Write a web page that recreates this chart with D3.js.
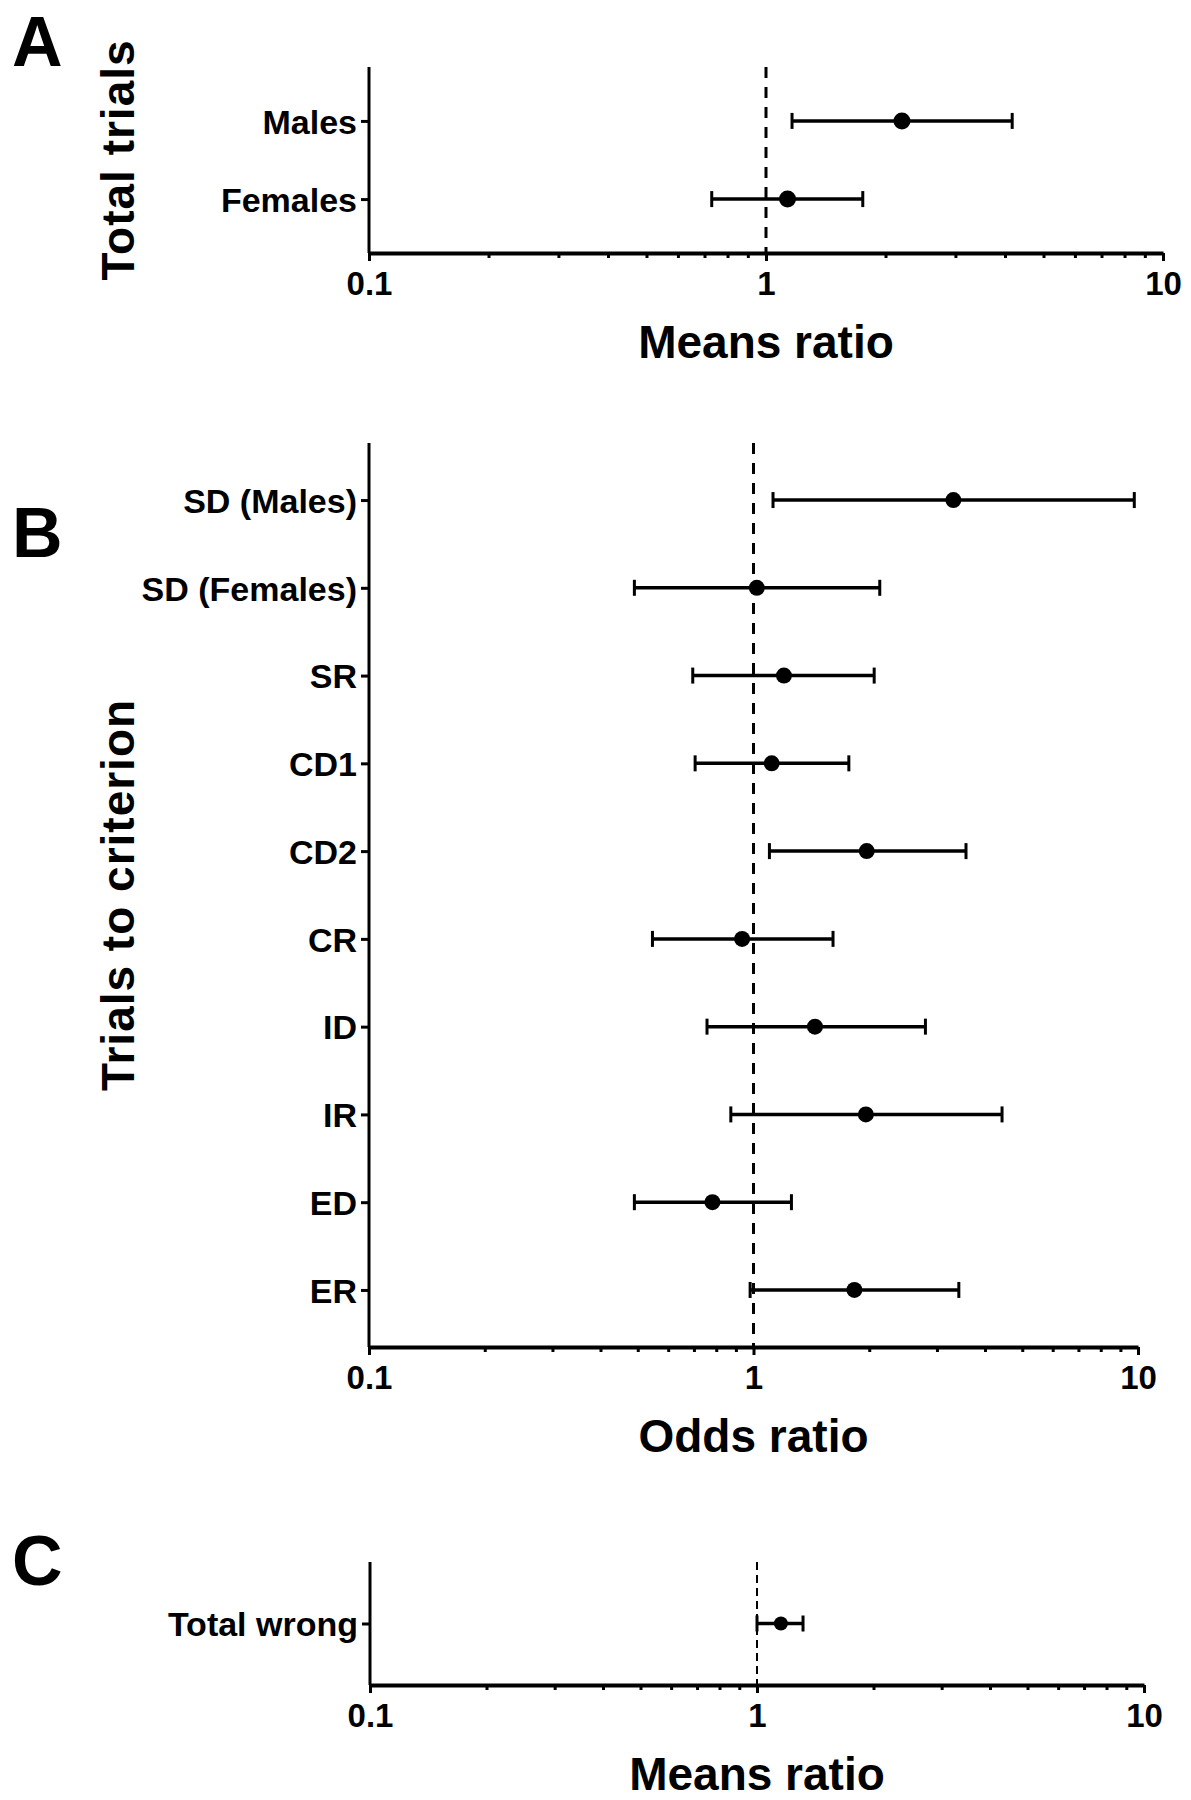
<!DOCTYPE html>
<html>
<head>
<meta charset="utf-8">
<script src="https://cdn.jsdelivr.net/npm/d3@7"></script>
<style>
  body { margin: 0; background: #fff; }
  svg { display: block; }
  text { font-family: "Liberation Sans", Arial, Helvetica, sans-serif; font-weight: bold; fill: #000; }
</style>
</head>
<body>
<svg id="chart" width="1191" height="1800"></svg>
<script>
// ---- Data ----
const majorTicks = [0.1, 1, 10];
const majorTickLabels = ["0.1", "1", "10"];
const minorTicks = [0.2, 0.3, 0.4, 0.5, 0.6, 0.7, 0.8, 0.9, 2, 3, 4, 5, 6, 7, 8, 9];

const catsA = ["Males", "Females"];
const estA  = [2.20, 1.133];
const lowA  = [1.163, 0.730];
const highA = [4.17, 1.753];

const catsB = ["SD (Males)", "SD (Females)", "SR", "CD1", "CD2", "CR", "ID", "IR", "ED", "ER"];
const estB  = [3.31, 1.02, 1.20, 1.115, 1.97, 0.934, 1.445, 1.96, 0.782, 1.83];
const lowB  = [1.124, 0.49, 0.695, 0.705, 1.10, 0.546, 0.757, 0.873, 0.49, 0.98];
const highB = [9.78, 2.13, 2.06, 1.77, 3.57, 1.61, 2.80, 4.43, 1.255, 3.42];

const catsC = ["Total wrong"];
const estC  = [1.153];
const lowC  = [1.0];
const highC = [1.315];

// ---- Panels ----
const panels = [
  { letter: "A", letterY: 66, cats: catsA, est: estA, low: lowA, high: highA,
    x0: 369, x1: 1163, top: 67, bottom: 253, pad: 0.69,
    xTitle: "Means ratio", yTitle: "Total trials", r: 8.5, dashW: 3, dash: "11,9" },
  { letter: "B", letterY: 557, cats: catsB, est: estB, low: lowB, high: highB,
    x0: 369, x1: 1138, top: 443, bottom: 1347, pad: 0.65,
    xTitle: "Odds ratio", yTitle: "Trials to criterion", r: 8, dashW: 3, dash: "11,9" },
  { letter: "C", letterY: 1585, cats: catsC, est: estC, low: lowC, high: highC,
    x0: 370, x1: 1144, top: 1562, bottom: 1685, pad: 0.5,
    xTitle: "Means ratio", yTitle: null, r: 7, dashW: 2, dash: "8,5" }
];

const svg = d3.select("#chart");

panels.forEach(p => {
  const g = svg.append("g");
  const x = d3.scaleLog().domain([0.1, 10]).range([p.x0, p.x1]);
  const y = d3.scalePoint().domain(p.cats).range([p.top, p.bottom]).padding(p.pad);

  // panel letter
  g.append("text").attr("x", 12).attr("y", p.letterY)
    .style("font-size", "70px").text(p.letter);

  // y title
  if (p.yTitle) {
    const cy = (p.top + p.bottom) / 2;
    g.append("text")
      .attr("transform", `translate(134,${cy}) rotate(-90)`)
      .attr("text-anchor", "middle")
      .style("font-size", "46px")
      .style("letter-spacing", "1px")
      .text(p.yTitle);
  }

  // reference dashed line at 1
  g.append("line")
    .attr("x1", x(1)).attr("x2", x(1))
    .attr("y1", p.top).attr("y2", p.bottom)
    .attr("stroke", "#000").attr("stroke-width", p.dashW)
    .attr("stroke-dasharray", p.dash);

  // x axis minor ticks
  const minorAxis = d3.axisBottom(x).tickValues(minorTicks).tickSize(5).tickSizeOuter(0).tickFormat("");
  const gxm = g.append("g").attr("transform", `translate(0,${p.bottom})`).call(minorAxis);
  gxm.select(".domain").remove();
  gxm.selectAll(".tick line").attr("stroke", "#000").attr("stroke-width", 3);

  // x axis major ticks with labels
  const majorAxis = d3.axisBottom(x).tickValues(majorTicks).tickSize(8).tickSizeOuter(0)
    .tickPadding(6)
    .tickFormat((d, i) => majorTickLabels[i]);
  const gx = g.append("g").attr("transform", `translate(0,${p.bottom})`).call(majorAxis);
  gx.select(".domain").attr("stroke", "#000").attr("stroke-width", 4);
  gx.selectAll(".tick line").attr("stroke", "#000").attr("stroke-width", 3);
  gx.selectAll(".tick text")
    .attr("y", 42).attr("dy", null)
    .style("font-size", "33px")
    .attr("fill", "#000");
  gx.attr("font-family", null).attr("font-size", null);

  // y axis
  const yAxis = d3.axisLeft(y).tickSize(8).tickSizeOuter(0).tickPadding(4);
  const gy = g.append("g").attr("transform", `translate(${p.x0},0)`).call(yAxis);
  gy.select(".domain").attr("stroke", "#000").attr("stroke-width", 3)
    .attr("d", `M0,${p.top}V${p.bottom}`);
  gy.selectAll(".tick line").attr("stroke", "#000").attr("stroke-width", 3);
  gy.selectAll(".tick text").style("font-size", "34px").attr("fill", "#000").attr("dy", "0.36em");
  gy.attr("font-family", null).attr("font-size", null);

  // x title
  g.append("text")
    .attr("x", x(1)).attr("y", p.bottom + 105)
    .attr("text-anchor", "middle")
    .style("font-size", "46px")
    .text(p.xTitle);

  // error bars
  const rows = p.cats.map((c, i) => ({ c, est: p.est[i], low: p.low[i], high: p.high[i] }));
  const eb = g.append("g").selectAll("g").data(rows).join("g");
  eb.append("line")
    .attr("x1", d => x(d.low)).attr("x2", d => x(d.high))
    .attr("y1", d => y(d.c)).attr("y2", d => y(d.c))
    .attr("stroke", "#000").attr("stroke-width", 3.5);
  eb.append("line")
    .attr("x1", d => x(d.low)).attr("x2", d => x(d.low))
    .attr("y1", d => y(d.c) - 8).attr("y2", d => y(d.c) + 8)
    .attr("stroke", "#000").attr("stroke-width", 3);
  eb.append("line")
    .attr("x1", d => x(d.high)).attr("x2", d => x(d.high))
    .attr("y1", d => y(d.c) - 8).attr("y2", d => y(d.c) + 8)
    .attr("stroke", "#000").attr("stroke-width", 3);
  eb.append("circle")
    .attr("cx", d => x(d.est)).attr("cy", d => y(d.c))
    .attr("r", p.r).attr("fill", "#000");
});
</script>
</body>
</html>
